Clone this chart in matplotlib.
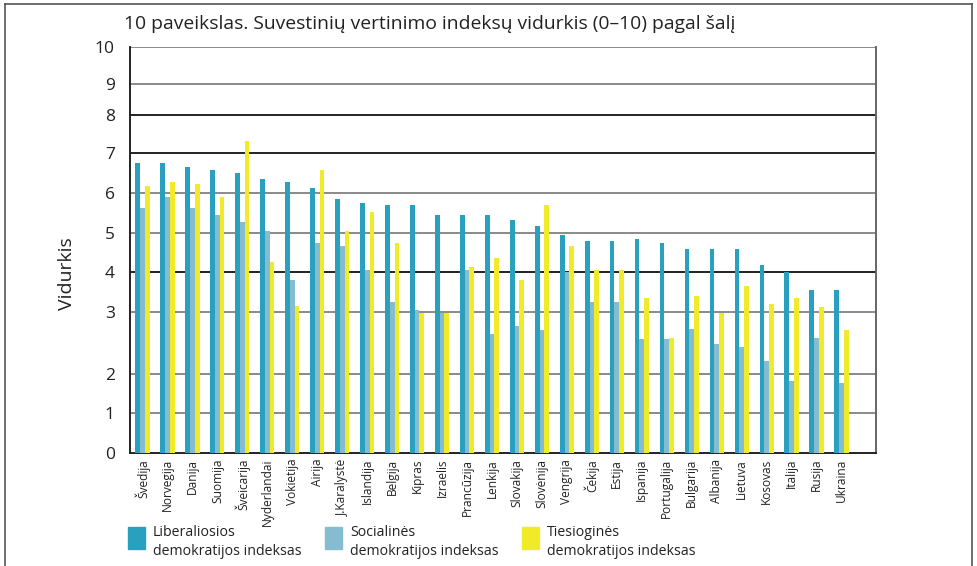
import numpy as np
import matplotlib
matplotlib.use("Agg")
from matplotlib import pyplot as plt
from matplotlib.patches import Rectangle
from matplotlib.lines import Line2D

plt.rcParams['font.family'] = ['Open Sans', 'DejaVu Sans']

countries = ["Švedija", "Norvegija", "Danija", "Suomija", "Šveicarija", "Nyderlandai",
             "Vokietija", "Airija", "J.Karalystė", "Islandija", "Belgija", "Kipras",
             "Izraelis", "Prancūzija", "Lenkija", "Slovakija", "Slovėnija", "Vengrija",
             "Čekija", "Estija", "Ispanija", "Portugalija", "Bulgarija", "Albanija",
             "Lietuva", "Kosovas", "Italija", "Rusija", "Ukraina"]

liberal = [6.76, 6.76, 6.66, 6.58, 6.50, 6.35, 6.28, 6.13, 5.85, 5.75,
           5.70, 5.70, 5.45, 5.45, 5.45, 5.32, 5.17, 4.94, 4.79, 4.79,
           4.84, 4.74, 4.59, 4.59, 4.59, 4.18, 4.01, 3.56, 3.56]
social = [5.62, 5.90, 5.62, 5.45, 5.27, 5.04, 3.81, 4.74, 4.67, 4.06,
          3.26, 3.06, 2.99, 4.06, 2.65, 2.78, 2.71, 4.01, 3.26, 3.26,
          2.57, 2.57, 2.73, 2.49, 2.44, 2.21, 1.82, 2.58, 1.77]
direct = [6.18, 6.28, 6.23, 5.90, 7.32, 4.26, 3.16, 6.58, 5.04, 5.52,
          4.74, 2.99, 2.99, 4.13, 4.36, 3.81, 5.70, 4.67, 4.06, 4.06,
          3.36, 2.58, 3.41, 2.99, 3.66, 3.21, 3.36, 3.13, 2.71]

series_labels = ["Liberaliosios\ndemokratijos indeksas",
                 "Socialinės\ndemokratijos indeksas",
                 "Tiesioginės\ndemokratijos indeksas"]
colors = ["#29A0BE", "#86BCD0", "#F0EA28"]

y_ticks = [0, 1, 2, 3, 4, 5, 6, 7, 8, 9, 10]
# the original axis is not evenly spaced: position of each tick label (pixels above 0)
tick_height = [0, 40, 79.3, 141, 181, 220.6, 260.3, 300, 338, 369, 406.6]


def fwd(v):
    return np.interp(v, y_ticks, tick_height)


def inv(h):
    return np.interp(h, tick_height, y_ticks)


W, H = 977, 566
fig = plt.figure(figsize=(W / 100, H / 100), dpi=100)
ax = fig.add_axes([130 / W, 1 - 453.3 / H, 746 / W, 406.6 / H])
ax.set_yscale('function', functions=(fwd, inv))

x = np.arange(len(countries))
bw = 0.19
for i, (vals, col) in enumerate(zip([liberal, social, direct], colors)):
    ax.bar(x + (i - 1) * bw, vals, width=bw, color=col, zorder=3)

ax.set_ylim(0, 10)
ax.set_xlim(-0.5, 29.38)
ax.set_yticks(y_ticks)
ax.set_yticklabels([str(t) for t in y_ticks], fontsize=12.5, color="#222222")
ax.tick_params(axis='y', length=0, pad=11)
ax.set_xticks(x)
ax.set_xticklabels(countries, rotation=90, fontsize=8.6, color="#222222")
ax.tick_params(axis='x', length=0, pad=4)

dark = {4, 7, 8}
for t in y_ticks[1:]:
    ax.axhline(t, color="#222222" if t in dark else "#8a8a8a", lw=1.4, zorder=1)

for s in ["left", "bottom"]:
    ax.spines[s].set_color("#222222")
    ax.spines[s].set_linewidth(1.4)
ax.spines["right"].set_color("#666666")
ax.spines["right"].set_linewidth(1.4)
ax.spines["top"].set_visible(False)

fig.text(124 / W, 1 - 24 / H, "10 paveikslas. Suvestinių vertinimo indeksų vidurkis (0–10) pagal šalį",
         fontsize=13.9, va="center", ha="left", color="#222222")
fig.text(67 / W, 1 - 274 / H, "Vidurkis", rotation=90, fontsize=14,
         va="center", ha="center", color="#222222")

# legend drawn by hand along the bottom
leg_x = [128, 325, 522]
for lx, col, lab in zip(leg_x, colors, series_labels):
    fig.add_artist(Rectangle((lx / W, 1 - 549 / H), 17 / W, 22 / H,
                             transform=fig.transFigure, color=col))
    fig.text((lx + 25) / W, 1 - 542 / H, lab, fontsize=10.2, va="center",
             ha="left", linespacing=1.3, color="#222222")

# outer frame
fx0, fx1, fy1 = 4.7 / W, 971.7 / W, 1 - 4 / H
for xs, ys in [([fx0, fx0], [0, fy1]), ([fx0, fx1], [fy1, fy1]), ([fx1, fx1], [fy1, 0])]:
    fig.add_artist(Line2D(xs, ys, transform=fig.transFigure, color="#555555", lw=1.2))

fig.savefig("out.png", dpi=100)
